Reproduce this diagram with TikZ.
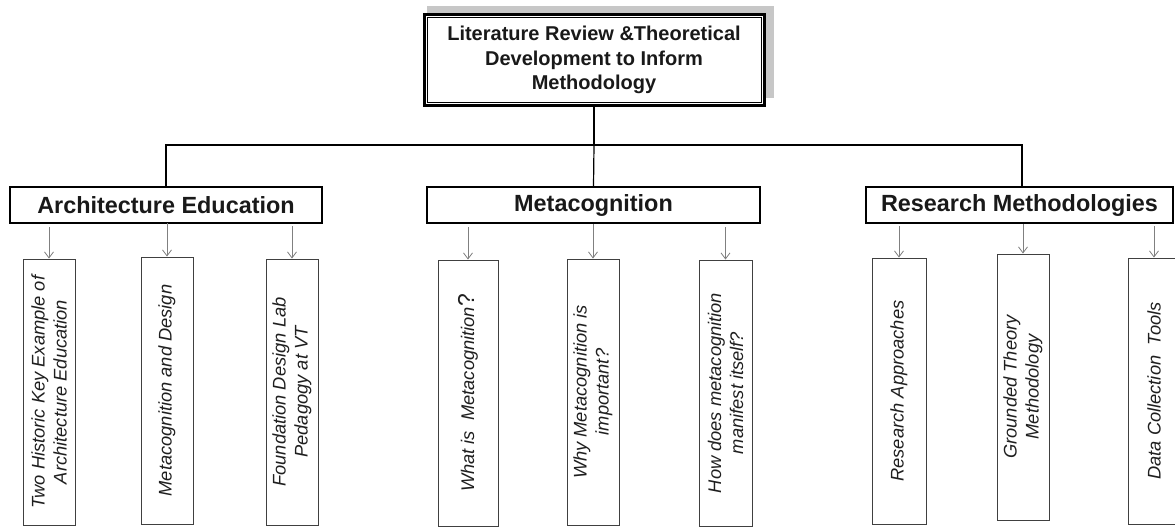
\documentclass[tikz,border=0pt]{standalone}
\usepackage{fontspec}
\newfontfamily\arial{Liberation Sans}
\usetikzlibrary{arrows.meta}
\begin{document}
\begin{tikzpicture}[x=1pt,y=-1pt,
  topbox/.style={draw=black, line width=3pt, fill=white, minimum width=340pt, minimum height=91pt,
    inner sep=0pt, align=center, font=\arial\bfseries\fontsize{20}{24.5}\selectfont, text=black!90},
  catbox/.style={draw=black, line width=1.3pt, fill=white, minimum height=36pt, inner sep=0pt,
    font=\arial\bfseries\fontsize{23.4}{26}\selectfont, text=black!90},
  vbox/.style={draw=black!75, line width=0.9pt, fill=white, rotate=90, minimum width=266pt,
    minimum height=52pt, inner sep=0pt, align=center,
    font=\arial\itshape\fontsize{18.3}{22}\selectfont, text=black!88},
  link/.style={draw=black, line width=1.2pt},
  arr/.style={draw=black!50, line width=0.8pt, -{Straight Barb[length=6pt,width=9pt]}}
]
\useasboundingbox[fill=white] (0,0) rectangle (1175,527);

% title box with its shadow and double frame
\fill[black!22] (427,6) rectangle (774,98);
\node[topbox] (top) at (594,60) {Literature Review \&Theoretical\\Development to Inform\\Methodology};
\draw[line width=1pt] ([shift={(4.5,4.5)}]top.north west) rectangle ([shift={(-4.5,-4.5)}]top.south east);

% three branches
\node[catbox, minimum width=312pt] (arch) at (166,205) {Architecture Education};
\node[catbox, minimum width=333pt] (meta) at (593.5,205) {Metacognition};
\node[catbox, minimum width=307pt] (res)  at (1019.5,205) {Research Methodologies};

\coordinate (bus) at (594,145);
\draw[link] (top.south) -- (bus);
\draw[link] (bus) -| (arch.north);
\draw[link] (bus) -- (meta.north);
\draw[link] (bus) -| (1022,187) coordinate (resin);

% topics under Architecture Education
\node[vbox] (a1) at (49,392) {Two Historic Key Example of\\Architecture Education};
\node[vbox, minimum width=267pt] (a2) at (167,390.5) {Metacognition and Design};
\node[vbox] (a3) at (292,392) {Foundation Design Lab\\Pedagogy at VT};

% topics under Metacognition
\node[vbox, minimum height=60pt] (m1) at (468,393) {What is\ \ Metacognition{\upshape\fontsize{23}{22}\selectfont ?}};
\node[vbox] (m2) at (593,392) {Why Metacognition is\\important?};
\node[vbox, minimum height=53pt] (m3) at (725.5,393) {How does metacognition\\manifest itself?};

% topics under Research Methodologies
\node[vbox, minimum height=54pt] (r1) at (899,391) {Research Approaches};
\node[vbox] (r2) at (1023,387) {Grounded Theory\\Methodology};
\node[vbox] (r3) at (1154,391) {Data Collection\ \ Tools};

% arrows from each branch to its topics
\coordinate (a1s) at (49,227);
\coordinate (a2s) at (167,223);
\coordinate (a3s) at (292,226);
\coordinate (m1s) at (468,227);
\coordinate (m2s) at (593,224);
\coordinate (m3s) at (725.5,227);
\coordinate (r1s) at (899,226);
\coordinate (r2s) at (1023,224);
\coordinate (r3s) at (1154,226);
\foreach \s/\t in {a1s/a1,a2s/a2,a3s/a3,m1s/m1,m2s/m2,m3s/m3,r1s/r1,r2s/r2,r3s/r3}
  \draw[arr] (\s) -- (\t.east);
\end{tikzpicture}
\end{document}
